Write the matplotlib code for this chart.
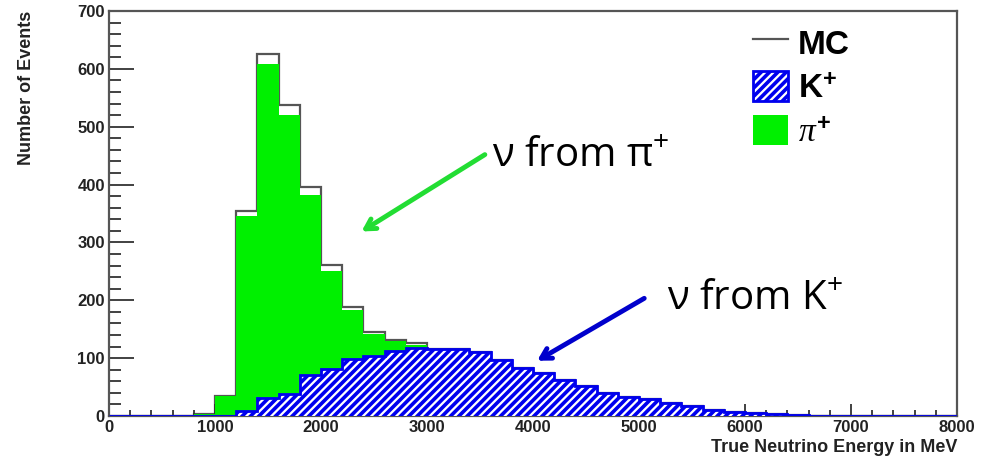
import numpy as np
import matplotlib
matplotlib.use("Agg")
import matplotlib.pyplot as plt

plt.rcParams['font.family'] = ['Liberation Sans', 'DejaVu Sans']
plt.rcParams['mathtext.fontset'] = 'custom'
plt.rcParams['mathtext.rm'] = 'Liberation Sans:bold'
plt.rcParams['mathtext.bf'] = 'Liberation Sans:bold'
plt.rcParams['mathtext.it'] = 'Liberation Serif:italic'
plt.rcParams['hatch.linewidth'] = 2.6

# 200 MeV bins, 0 - 8000 MeV
edges = np.arange(0, 8001, 200)

# MC total (outline)
mc = [0, 0, 0, 0, 3, 35, 354, 625, 537, 396, 261, 188, 146, 131, 127,
      115, 115, 111, 97, 83, 74, 63, 52, 40, 33, 29, 22, 17, 10, 7,
      5, 3, 1, 0, 0, 0, 0, 0, 0, 0]
# nu from pi+ (green); values above 3000 MeV are hidden under K+
pi_plus = [0, 0, 0, 0, 3, 35, 346, 608, 521, 382, 251, 183, 142, 130, 123,
           0, 0, 0, 0, 0, 0, 0, 0, 0, 0, 0, 0, 0, 0, 0,
           0, 0, 0, 0, 0, 0, 0, 0, 0, 0]
# nu from K+ (hatched blue)
k_plus = [0, 0, 0, 0, 0, 0, 8, 31, 38, 71, 81, 99, 103, 112, 117,
          115, 115, 111, 97, 83, 74, 63, 52, 40, 33, 29, 22, 17, 10, 7,
          5, 3, 1, 0, 0, 0, 0, 0, 0, 0]

fig = plt.figure(figsize=(9.92, 4.58), dpi=100)
ax = fig.add_axes([0.1099, 0.0917, 0.8548, 0.8843])

ax.stairs(mc, edges, color='#555555', linewidth=1.6, zorder=1, label='MC')
ax.stairs(k_plus, edges, fill=True, facecolor='white', edgecolor='#0000ee',
          hatch='////', linewidth=2, zorder=3, label='K$^{+}$')
ax.stairs(pi_plus, edges, fill=True, color='#00f000', zorder=2,
          label=r'$\pi^{+}$')

ax.set_xlim(0, 8000)
ax.set_ylim(0, 700)
ax.set_xticks(np.arange(0, 8001, 1000))
ax.set_xticks(np.arange(0, 8001, 200), minor=True)
ax.set_yticks(np.arange(0, 701, 100))
ax.set_yticks(np.arange(0, 701, 20), minor=True)
ax.tick_params(axis='both', which='both', direction='in', color='#333333',
               labelsize=12, top=False, right=False)
ax.tick_params(axis='y', which='major', length=18, width=1.3, pad=3)
ax.tick_params(axis='y', which='minor', length=8.5, width=1.3)
ax.tick_params(axis='x', which='major', length=8.5, width=1.3, pad=3)
ax.tick_params(axis='x', which='minor', length=4.3, width=1.3)
for lab in ax.get_xticklabels() + ax.get_yticklabels():
    lab.set_fontweight('bold')
    lab.set_color('#222222')
for sp in ax.spines.values():
    sp.set_color('#555555')
    sp.set_linewidth(1.6)

ax.set_xlabel('True Neutrino Energy in MeV', loc='right', fontsize=13,
              fontweight='bold', color='#222222', labelpad=3)
ax.set_ylabel('Number of Events', loc='top', fontsize=13,
              fontweight='bold', color='#222222')
ax.yaxis.set_label_coords(-0.087, 1.0)

handles, labels = ax.get_legend_handles_labels()
leg = ax.legend(handles, labels,
                loc='upper left', bbox_to_anchor=(0.759, 0.96), frameon=False,
                prop={'weight': 'bold', 'size': 24}, handlelength=1.05,
                handleheight=1.0, labelspacing=0.32, handletextpad=0.3,
                borderpad=0, borderaxespad=0)

note_font = ['Open Sans', 'DejaVu Sans']
ax.text(0.452, 0.615, r'ν from π$\mathregular{^{+}}$', transform=ax.transAxes,
        fontsize=29, family=note_font, ha='left', va='baseline')
ax.text(0.658, 0.262, r'ν from K$\mathregular{^{+}}$', transform=ax.transAxes,
        fontsize=29, family=note_font, ha='left', va='baseline')
ax.annotate('', xy=(0.295, 0.452), xytext=(0.446, 0.649),
            xycoords='axes fraction', textcoords='axes fraction',
            arrowprops=dict(arrowstyle='->,head_length=0.7,head_width=0.4',
                            color='#22dd33', lw=3.5), zorder=5)
ax.annotate('', xy=(0.502, 0.133), xytext=(0.634, 0.294),
            xycoords='axes fraction', textcoords='axes fraction',
            arrowprops=dict(arrowstyle='->,head_length=0.7,head_width=0.4',
                            color='#0000cc', lw=3.5), zorder=5)

fig.savefig('out.png', dpi=100)
